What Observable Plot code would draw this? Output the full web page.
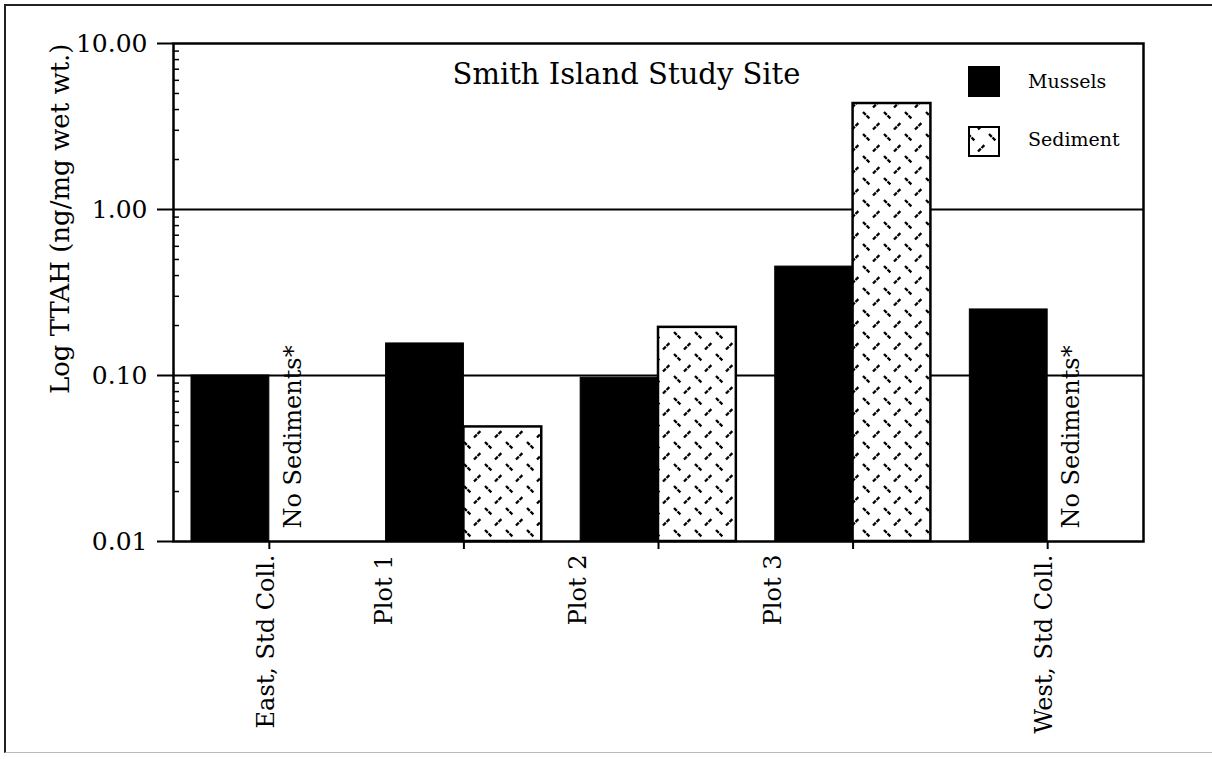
<!DOCTYPE html>
<html>
<head>
<meta charset="utf-8">
<script src="https://cdn.jsdelivr.net/npm/d3@7"></script>
<script src="https://cdn.jsdelivr.net/npm/@observablehq/plot@0.6"></script>
<style>
  body { margin: 0; background: #fff; }
  #wrap { position: relative; width: 1212px; height: 759px; overflow: hidden; }
  #wrap svg { display: block; }
  #border { position: absolute; left: 4px; top: 4px; width: 1212px; height: 749px;
            border-left: 2px solid #222; border-top: 2px solid #222; border-bottom: 1px solid #bbb;
            box-sizing: border-box; pointer-events: none; }
</style>
</head>
<body>
<div id="wrap"><div id="border"></div></div>
<script>
// ---- data ----
const groups = ["East, Std Coll.", "Plot 1", "Plot 2", "Plot 3", "West, Std Coll."];
const musselValues = [0.10, 0.156, 0.097, 0.453, 0.25];
const sedimentValues = [null, 0.049, 0.195, 4.35, null];
const noSedimentText = "No Sediments*";
const yTickValues = [0.01, 0.1, 1, 10];
const yTickLabels = ["0.01", "0.10", "1.00", "10.00"];
const gridValues = [0.1, 1];
const minorTicks = [2,3,4,5,6,7,8,9].flatMap(m => [0.01, 0.1, 1].map(d => +(m * d).toPrecision(3)));
const titleText = "Smith Island Study Site";
const yLabelText = "Log TTAH (ng/mg wet wt.)";
const legendLabels = ["Mussels", "Sediment"];

const musselData = groups.map((g, i) => ({group: g, value: musselValues[i]}));
const sedData = groups.map((g, i) => ({group: g, value: sedimentValues[i]})).filter(d => d.value != null);
const noSedGroups = groups.filter((g, i) => sedimentValues[i] == null);
const plotGroups = groups.filter(g => g.startsWith("Plot"));
const stdGroups = groups.filter(g => !g.startsWith("Plot"));

// ---- layout ----
const W = 1212, H = 759, ML = 173, MR = 69, MT = 43, MB = 218;
const PAD_IN = 0.2, PAD_OUT = 0.0925;
const bw = d3.scaleBand().domain(groups).range([ML, W - MR]).paddingInner(PAD_IN).paddingOuter(PAD_OUT).align(0.5).bandwidth();
const plotW = W - ML - MR;
const yMin = yTickValues[0];
const FONT = "DejaVu Serif";

const chart = Plot.plot({
  width: W, height: H,
  marginLeft: ML, marginRight: MR, marginTop: MT, marginBottom: MB,
  style: {fontFamily: FONT, background: "white", color: "black"},
  x: {type: "band", domain: groups, paddingInner: PAD_IN, paddingOuter: PAD_OUT, align: 0.5, round: false},
  y: {type: "log", domain: [yTickValues[0], yTickValues[yTickValues.length - 1]]},
  marks: [
    Plot.ruleY(gridValues, {stroke: "black", strokeWidth: 2}),
    Plot.ruleY(minorTicks, {stroke: "black", strokeWidth: 1.5, insetRight: plotW - 6}),
    Plot.barY(musselData, {x: "group", y1: yMin, y2: "value", fill: "black", stroke: "black", strokeWidth: 1, insetRight: bw / 2}),
    Plot.barY(sedData, {x: "group", y1: yMin, y2: "value", fill: "url(#sedPat)", stroke: "black", strokeWidth: 2.5, insetLeft: bw / 2}),
    Plot.text(noSedGroups, {x: d => d, y: () => yMin, text: () => noSedimentText, rotate: -90,
      textAnchor: "start", lineAnchor: "middle", dx: 24, dy: -13, fontSize: 24, fill: "black"}),
    Plot.frame({stroke: "black", strokeWidth: 2.5}),
    Plot.axisY(yTickValues, {tickSize: 16, tickPadding: 10, strokeWidth: 2, fontSize: 25, label: null,
      tickFormat: d => yTickLabels[yTickValues.indexOf(d)]}),
    Plot.axisX(groups, {tickSize: 8, strokeWidth: 2, tickFormat: () => "", label: null}),
    Plot.axisX(plotGroups, {tickSize: 0, tickPadding: 13, tickRotate: -90, dx: -80, fontSize: 24, label: null}),
    Plot.axisX(stdGroups, {tickSize: 0, tickPadding: 13, tickRotate: -90, dx: -3, fontSize: 24, label: null}),
    Plot.text([titleText], {frameAnchor: "top", dx: -32, dy: 31, lineAnchor: "middle", fontSize: 29, fill: "black"}),
    Plot.text([yLabelText], {frameAnchor: "top-left", rotate: -90, textAnchor: "end", lineAnchor: "middle",
      dx: -113, dy: 0, fontSize: 26, fill: "black"})
  ]
});

// pattern definition for the sediment fill
const svg = d3.select(chart);
const defs = svg.insert("defs", ":first-child");
const pat = defs.append("pattern").attr("id", "sedPat").attr("patternUnits", "userSpaceOnUse")
  .attr("width", 21).attr("height", 22);
pat.append("rect").attr("width", 21).attr("height", 22).attr("fill", "white");
pat.append("line").attr("x1", 2).attr("y1", 2).attr("x2", 8.5).attr("y2", 8.5)
  .attr("stroke", "black").attr("stroke-width", 2.3).attr("stroke-dasharray", "4 1");
pat.append("line").attr("x1", 12).attr("y1", 19.5).attr("x2", 18.5).attr("y2", 13)
  .attr("stroke", "black").attr("stroke-width", 2.3).attr("stroke-dasharray", "4 1");

// legend
const leg = svg.append("g").attr("font-family", FONT).attr("font-size", 19).attr("text-anchor", "start");
const fills = ["black", "url(#sedPat)"];
legendLabels.forEach((lab, i) => {
  leg.append("rect").attr("x", 969).attr("y", 67 + i * 60).attr("width", 30).attr("height", 29)
    .attr("fill", fills[i]).attr("stroke", "black").attr("stroke-width", 2);
  leg.append("text").attr("x", 1028).attr("y", 88 + i * 58).attr("fill", "black").text(lab);
});

document.getElementById("wrap").prepend(chart);
</script>
</body>
</html>
